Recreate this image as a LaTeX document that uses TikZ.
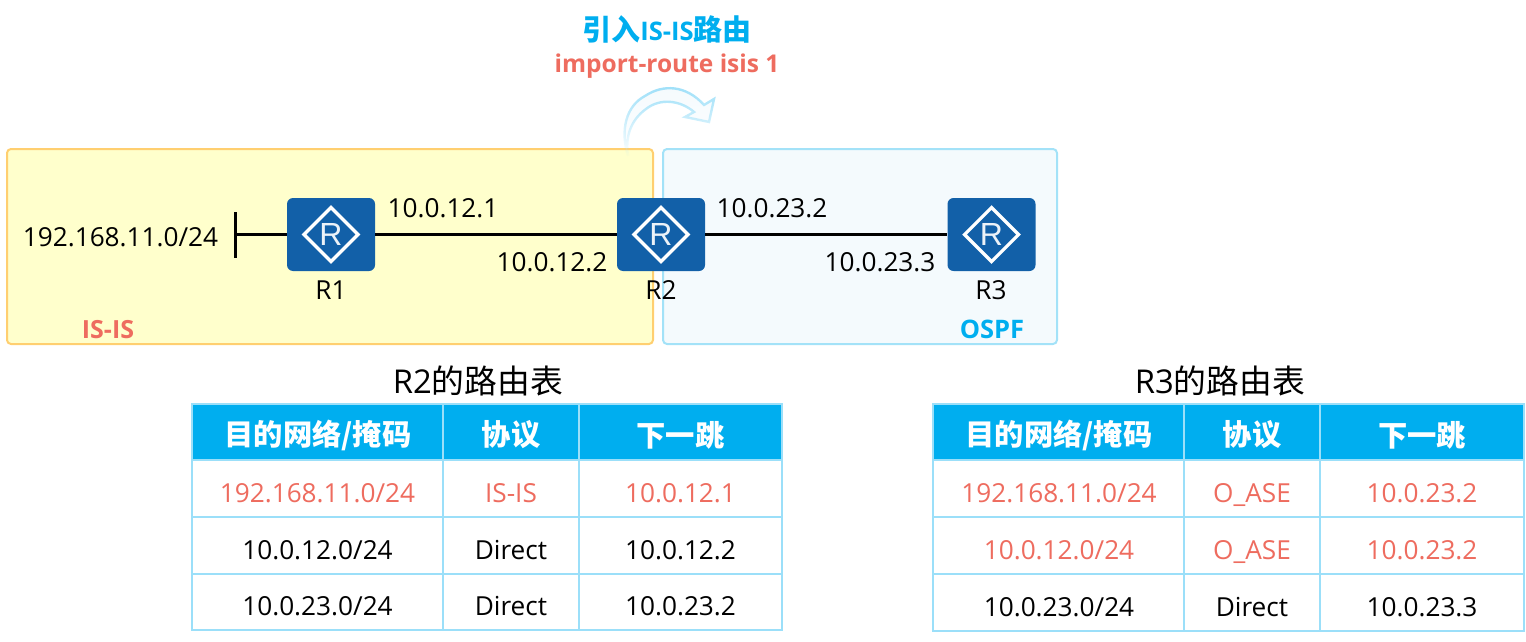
\documentclass[tikz,border=0pt]{standalone}
\usepackage{fontspec}
\setmainfont{Open Sans}
\newfontfamily\cjk{Noto Sans CJK SC}
\newfontfamily\routerfont{Liberation Sans}
\usetikzlibrary{fadings,shapes.geometric}
\definecolor{cellline}{HTML}{9BDFF9}
\definecolor{headblue}{HTML}{00AEEF}
\definecolor{redtxt}{HTML}{EE6C5F}
\definecolor{routerblue}{HTML}{1260A8}
\definecolor{panelY}{HTML}{FFFFCC}
\definecolor{panelYb}{HTML}{FFCF70}
\definecolor{panelB}{HTML}{F4FAFD}
\definecolor{panelBb}{HTML}{A3E2F8}
\tikzfading[name=arrowfade,top color=transparent!0,middle color=transparent!8,bottom color=transparent!100]
\tikzset{
  x=1pt,y=-1pt,
  routerbox/.style={fill=routerblue,rounded corners=6pt,minimum width=88pt,minimum height=73pt,inner sep=0pt},
  lbl/.style={font=\fontsize{26.2}{28}\selectfont,text=black,inner sep=0pt,anchor=center,text height=23pt,text depth=4pt},
  redlbl/.style={lbl,text=redtxt},
  head/.style={font=\fontsize{29.3}{32}\selectfont\bfseries\cjk,text=white,inner sep=0pt},
  ttl/.style={font=\fontsize{32.8}{35}\selectfont,text=black,inner sep=0pt},
  link/.style={draw=black,line width=3pt},
  grid/.style={draw=cellline,line width=2pt},
}
\newcommand{\router}[3]{%
  \node[routerbox] (#1) at (#2,#3) {};
  \draw[white,line width=3.2pt,line join=miter] (#2-27,#3) -- (#2,#3-27) -- (#2+27,#3) -- (#2,#3+27) -- cycle;
  \node[inner sep=0pt,text=white!92!routerblue,font=\fontsize{32}{32}\selectfont\routerfont] (#1glyph) at (#2,#3) {R};
}
\begin{document}
\begin{tikzpicture}
\useasboundingbox (0,0) rectangle (1526,642);
% panels
\node[draw=panelYb,fill=panelY,line width=2pt,rounded corners=4pt,minimum width=646pt,minimum height=195pt,inner sep=0pt] (isis) at (330,246.5) {};
\node[draw=panelBb,fill=panelB,line width=2pt,rounded corners=4pt,minimum width=394pt,minimum height=195pt,inner sep=0pt] (ospf) at (860,246.5) {};
% curved arrow
\path[fill=panelB,draw=cellline,line width=2.4pt,line join=miter,path fading=arrowfade]
  (628,156) .. controls (620,130) and (626,106) .. (645,96)
  .. controls (663,84) and (686,85) .. (704,105) -- (714,99) -- (709,122) -- (685,117) -- (694,112)
  .. controls (680,100) and (660,98) .. (646,109)
  .. controls (631,120) and (625,136) .. (628,156) -- cycle;
% titles
\node[inner sep=0pt,text=headblue,font=\fontsize{29}{30}\selectfont\bfseries] (t1) at (667,29) {{\cjk 引入}{\fontsize{25.6}{30}\selectfont IS-IS}{\cjk 路由}};
\node[inner sep=0pt,text=redtxt,font=\fontsize{24.5}{30}\selectfont\bfseries] (t2) at (667,66) {import-route isis 1};
% routers
\router{R1}{331}{234.5}
\router{R2}{661}{234.5}
\router{R3}{991.5}{234.5}
\coordinate (stubtop) at (235.5,212);
\coordinate (stubbot) at (235.5,258);
\coordinate (stubmid) at (235.5,234.5);
\draw[link] (stubtop) -- (stubbot);
\draw[link] (stubmid) -- (R1.west);
\draw[link] (R1.east) -- (R2.west);
\draw[link] (R2.east) -- (R3.west);
\node[lbl] (n1) at (120.5,237) {192.168.11.0/24};
\node[lbl] (n2) at (443,208) {10.0.12.1};
\node[lbl] (n3) at (552,262) {10.0.12.2};
\node[lbl] (n4) at (772,208) {10.0.23.2};
\node[lbl] (n5) at (880,262) {10.0.23.3};
\node[lbl] (l1) at (331,290) {R1};
\node[lbl] (l2) at (661,290) {R2};
\node[lbl] (l3) at (991,290) {R3};
\node[inner sep=0pt,text=redtxt,font=\fontsize{25}{27}\selectfont\bfseries] (a1) at (108,330) {IS-IS};
\node[inner sep=0pt,text=headblue,font=\fontsize{25.5}{27}\selectfont\bfseries] (a2) at (992,329) {OSPF};
% table titles
\node[ttl] (tt1) at (478,381) {R2{\cjk 的路由表}};
\node[ttl] (tt2) at (1220,381) {R3{\cjk 的路由表}};
% table 1
\fill[headblue] (192,404) rectangle (782,460);
\fill[white] (192,460) rectangle (782,630);
\foreach \y in {404,460,517,574,630} \draw[grid] (192,\y) -- (782,\y);
\foreach \x in {192,443,579,782} \draw[grid] (\x,403) -- (\x,631);
\node[head] (h11) at (318,435) {目的网络/掩码};
\node[head] (h12) at (511,435) {协议};
\node[head] (h13) at (680.5,435) {下一跳};
\node[redlbl] (c111) at (317.5,493) {192.168.11.0/24};
\node[redlbl] (c112) at (511,493) {IS-IS};
\node[redlbl] (c113) at (680.5,493) {10.0.12.1};
\node[lbl] (c121) at (317.5,550) {10.0.12.0/24};
\node[lbl] (c122) at (511,550) {Direct};
\node[lbl] (c123) at (680.5,550) {10.0.12.2};
\node[lbl] (c131) at (317.5,606) {10.0.23.0/24};
\node[lbl] (c132) at (511,606) {Direct};
\node[lbl] (c133) at (680.5,606) {10.0.23.2};
% table 2
\fill[headblue] (933,404) rectangle (1524,460);
\fill[white] (933,460) rectangle (1524,631);
\foreach \y in {404,460,517,574,631} \draw[grid] (933,\y) -- (1524,\y);
\foreach \x in {933,1184,1320,1524} \draw[grid] (\x,403) -- (\x,632);
\node[head] (h21) at (1059,435) {目的网络/掩码};
\node[head] (h22) at (1252,435) {协议};
\node[head] (h23) at (1422,435) {下一跳};
\node[redlbl] (c211) at (1059,493) {192.168.11.0/24};
\node[redlbl] (c212) at (1252,493) {O\_ASE};
\node[redlbl] (c213) at (1422,493) {10.0.23.2};
\node[redlbl] (c221) at (1059,550) {10.0.12.0/24};
\node[redlbl] (c222) at (1252,550) {O\_ASE};
\node[redlbl] (c223) at (1422,550) {10.0.23.2};
\node[lbl] (c231) at (1059,607) {10.0.23.0/24};
\node[lbl] (c232) at (1252,607) {Direct};
\node[lbl] (c233) at (1422,607) {10.0.23.3};
\end{tikzpicture}
\end{document}
